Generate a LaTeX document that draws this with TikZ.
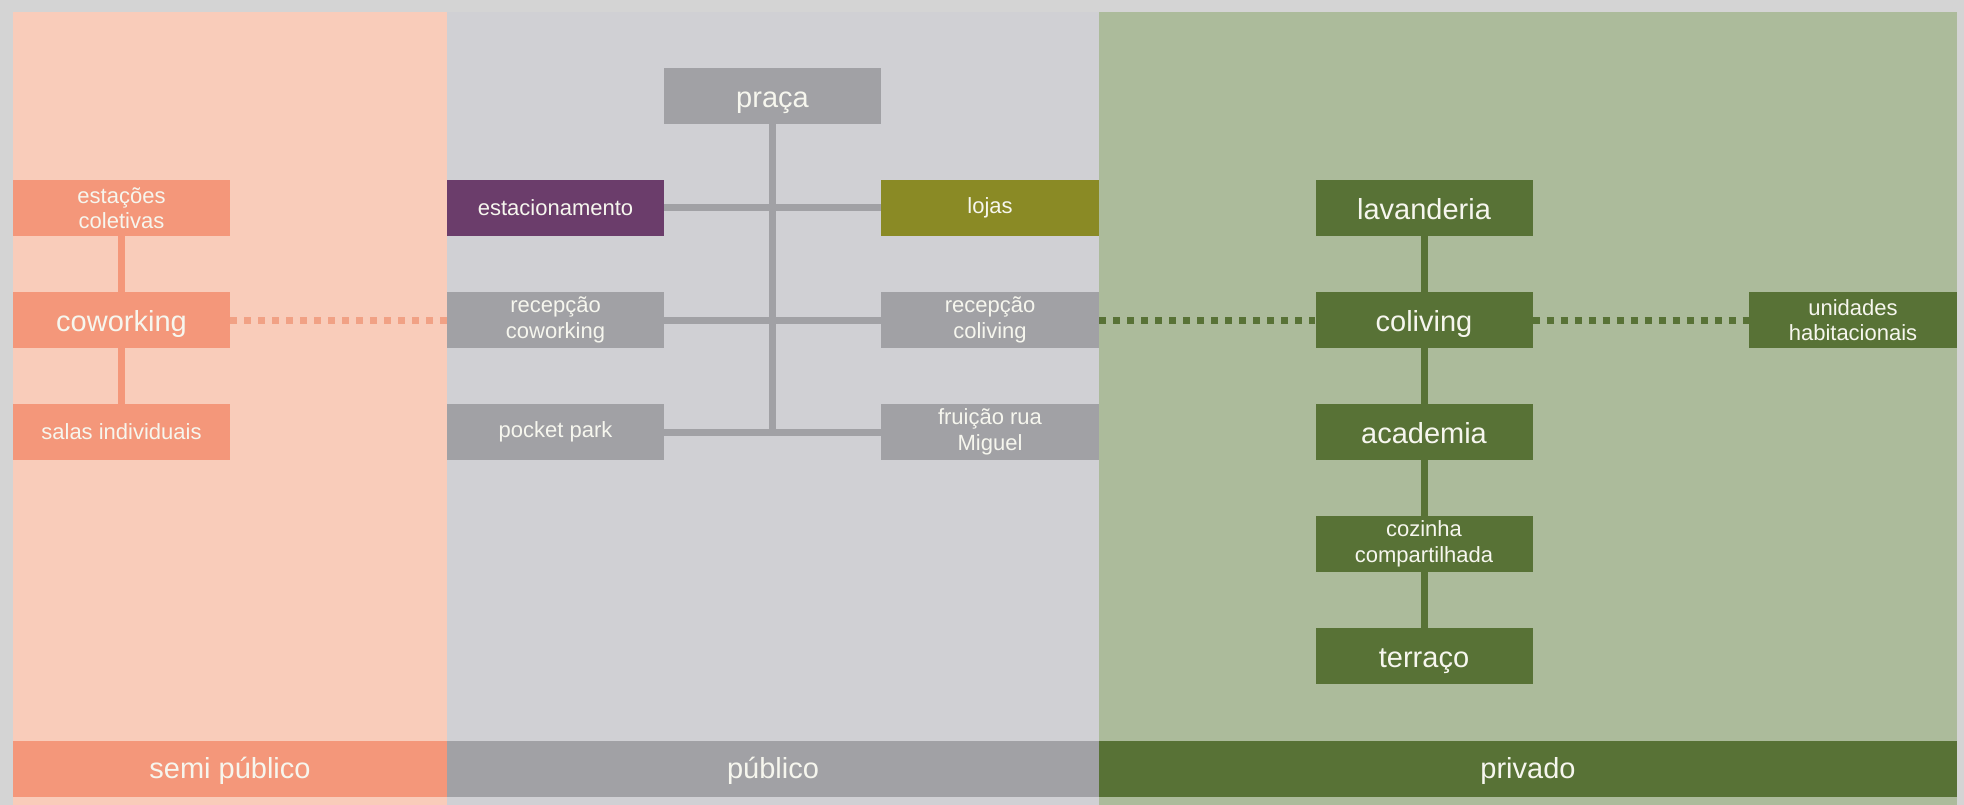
\documentclass[tikz,border=0pt]{standalone}
\usepackage{fontspec}
\setmainfont{Liberation Sans}
\definecolor{bgout}{HTML}{D4D4D4}
\definecolor{peachlight}{HTML}{F9CCBA}
\definecolor{peach}{HTML}{F4977A}
\definecolor{dotpeach}{HTML}{F1A185}
\definecolor{graypanel}{HTML}{D0D0D4}
\definecolor{graybox}{HTML}{A1A1A5}
\definecolor{greenpanel}{HTML}{ACBB9B}
\definecolor{darkgreen}{HTML}{587236}
\definecolor{purplebox}{HTML}{6B3D6B}
\definecolor{olivebox}{HTML}{8A8A25}
\definecolor{txt}{HTML}{F6F6EE}
\begin{document}
\begin{tikzpicture}[x=1pt,y=-1pt,
  box/.style={rectangle,inner sep=0pt,minimum width=217pt,minimum height=56pt,text=txt,align=center},
  sm/.style={font=\fontsize{22}{25.5}\selectfont},
  lg/.style={font=\fontsize{29}{31}\selectfont,text height=23pt,text depth=0pt},
  band/.style={rectangle,inner sep=0pt,minimum height=56pt,text=txt,font=\fontsize{29}{31}\selectfont,text height=21pt,text depth=2pt},
  link/.style={line width=7pt},
  dots/.style={line width=7pt,dash pattern=on 7pt off 7pt}]
\useasboundingbox (0,0) rectangle (1964,805);
% panels
\fill[bgout] (0,0) rectangle (1964,805);
\fill[peachlight] (13,12) rectangle (447,805);
\fill[graypanel] (447,12) rectangle (1099,805);
\fill[greenpanel] (1099,12) rectangle (1957,805);
% bands
\node[band,fill=peach,minimum width=434pt] (bsemi) at (230,769) {semi público};
\node[band,fill=graybox,minimum width=652pt] (bpub) at (773,769) {público};
\node[band,fill=darkgreen,minimum width=858pt] (bpriv) at (1528,769) {privado};
% semi publico
\node[box,sm,fill=peach] (est) at (121.5,208) {estações\\coletivas};
\node[box,lg,fill=peach] (cow) at (121.5,320) {coworking};
\node[box,sm,fill=peach] (sal) at (121.5,432) {salas individuais};
% publico
\node[box,lg,fill=graybox] (praca) at (772.5,96) {praça};
\node[box,sm,fill=purplebox] (estac) at (555.5,208) {estacionamento};
\node[box,sm,fill=graybox] (rcw) at (555.5,320) {recepção\\coworking};
\node[box,sm,fill=graybox] (pp) at (555.5,432) {pocket park};
\node[box,sm,fill=olivebox,minimum width=218pt] (lojas) at (990,208) {lojas};
\node[box,sm,fill=graybox,minimum width=218pt] (rcl) at (990,320) {recepção\\coliving};
\node[box,sm,fill=graybox,minimum width=218pt] (fru) at (990,432) {fruição rua\\Miguel};
% privado
\node[box,lg,fill=darkgreen] (lav) at (1424,208) {lavanderia};
\node[box,lg,fill=darkgreen] (col) at (1424,320) {coliving};
\node[box,lg,fill=darkgreen] (aca) at (1424,432) {academia};
\node[box,sm,fill=darkgreen] (coz) at (1424,544) {cozinha\\compartilhada};
\node[box,lg,fill=darkgreen] (ter) at (1424,656) {terraço};
\node[box,sm,fill=darkgreen,minimum width=208pt] (uni) at (1853,320) {unidades\\habitacionais};
% connectors
\draw[link,peach] (est.south) -- (cow.north) (cow.south) -- (sal.north);
\coordinate (trunkend) at (praca.south |- pp.east);
\draw[link,graybox] (praca.south) -- (trunkend);
\draw[link,graybox] (estac.east) -- (lojas.west);
\draw[link,graybox] (rcw.east) -- (rcl.west);
\draw[link,graybox] (pp.east) -- (fru.west);
\draw[link,darkgreen] (lav.south) -- (col.north) (col.south) -- (aca.north)
  (aca.south) -- (coz.north) (coz.south) -- (ter.north);
\draw[dots,dotpeach] (cow.east) -- (rcw.west);
\draw[dots,darkgreen] (rcl.east) -- (col.west);
\draw[dots,darkgreen] (col.east) -- (uni.west);
\end{tikzpicture}
\end{document}
